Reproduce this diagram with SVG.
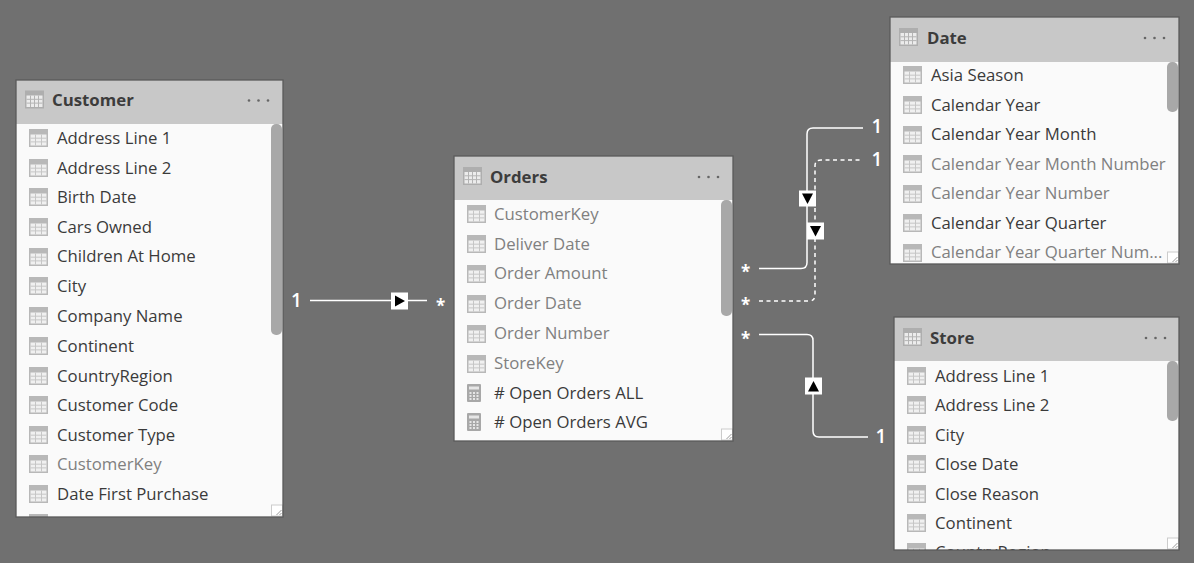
<svg xmlns="http://www.w3.org/2000/svg" width="1194" height="563" viewBox="0 0 1194 563">
<style>
text{font-family:"Open Sans","Noto Sans","Liberation Sans",sans-serif}
.box{fill:#fafafa}
.frame{fill:none;stroke:#5a5a5a;stroke-width:1.3}
.head{fill:#c8c8c8}
.title{font-size:16.800px;font-weight:700;fill:#3c3c3c}
.dots{fill:#666}
.row{font-size:16.750px;fill:#3a3a3a;transform:translateY(-.6px)}
.dim{fill:#808080}
.scroll{fill:#a8a8a8}
.card{font-size:19px;font-weight:600;fill:#fff}
.star{font-size:17px;font-weight:700;fill:#fff}
.line{fill:none;stroke:#fff;stroke-width:1.5}
.dash{stroke-dasharray:4 3.500}
.grip{fill:none;stroke:#999;stroke-width:1}
.corner{fill:#fff;stroke:#ccc;stroke-width:1}
</style>
<defs>
<g id="col"><rect width="19" height="18" fill="#b8b8b8"/><rect x="1.500" y="5.500" width="16" height="11" fill="#f0f0f0"/><path d="M6.500 5.500v11M12.500 5.500v11M1.500 9.200h16M1.500 12.900h16" stroke="#c6c6c6" stroke-width="1" fill="none"/></g>
<g id="tbl"><rect width="19" height="18" fill="#aeaeae"/><rect x="1.500" y="5" width="16" height="11.500" fill="#ececec"/><path d="M5.500 5v11.500M9.500 5v11.500M13.500 5v11.500M1.500 8.800h16M1.500 12.600h16" stroke="#b4b4b4" stroke-width="1" fill="none"/></g>
<g id="calc"><rect x="1" width="14" height="18" rx="1" fill="#a8a8a8"/><rect x="3" y="2.500" width="10" height="3" fill="#e6e6e6"/><path d="M3.500 8h2v2h-2zM7 8h2v2H7zM10.500 8h2v2h-2zM3.500 11h2v2h-2zM7 11h2v2H7zM10.500 11h2v2h-2zM3.500 14h2v2h-2zM7 14h2v2H7zM10.500 14h2v2h-2z" fill="#e6e6e6"/></g>
<g id="dotsg"><circle cx="0" cy="0" r="1.300" class="dots"/><circle cx="9.500" cy="0" r="1.300" class="dots"/><circle cx="19" cy="0" r="1.300" class="dots"/></g>
<g id="resize"><rect x="0" y="0" width="11" height="11" class="corner"/><path d="M10 5l-5 5M10 8l-2 2" class="grip"/></g>
<clipPath id="cCust"><rect x="16" y="80" width="267" height="437"/></clipPath>
<clipPath id="cOrd"><rect x="454" y="156" width="279" height="285"/></clipPath>
<clipPath id="cDate"><rect x="890" y="17" width="289" height="247"/></clipPath>
<clipPath id="cStore"><rect x="894" y="317" width="285" height="233"/></clipPath>
</defs>
<rect width="1194" height="563" fill="#707070"/>

<g id="connectors">
<path class="line" d="M310 300.500H427"/>
<path class="line" d="M759 268.500H801q6 0 6-6V134q0-6 6-6H863"/>
<path class="line dash" d="M759 301H809q6 0 6-6V166q0-6 6-6H863"/>
<path class="line" d="M759 334.500H807q6 0 6 6V431q0 6 6 6H868"/>
<g id="arrows">
<rect x="391" y="292.500" width="17" height="17" fill="#fff"/><path d="M395 295.500l10 5.500-10 5.500z" fill="#000"/>
<rect x="799" y="190.500" width="17" height="16" fill="#fff"/><path d="M802 193.500h11l-5.500 10.500z" fill="#000"/>
<rect x="807" y="222.500" width="17" height="17" fill="#fff"/><path d="M810 226h11l-5.500 10.500z" fill="#000"/>
<rect x="805" y="377.500" width="17" height="17" fill="#fff"/><path d="M813.500 381l5.500 10.500h-11z" fill="#000"/>
</g>
<text class="card" x="291" y="306.500">1</text>
<text class="star" x="436" y="312">*</text>
<text class="star" x="741" y="278">*</text>
<text class="star" x="741" y="311">*</text>
<text class="star" x="741" y="345">*</text>
<text class="card" x="871.500" y="133">1</text>
<text class="card" x="871.500" y="166">1</text>
<text class="card" x="875.500" y="443">1</text>
</g>

<g id="customer">
<rect class="box" x="16" y="80" width="267" height="437"/>
<g clip-path="url(#cCust)">
<rect class="head" x="16" y="80" width="267" height="44"/>
<use href="#tbl" x="25" y="90.500"/>
<text class="title" x="52" y="106">Customer</text>
<use href="#dotsg" x="249" y="100.500"/>
<rect class="scroll" x="271" y="124" width="11" height="211" rx="5"/>
<use href="#col" x="29" y="129"/><text class="row" x="57" y="144.500">Address Line 1</text>
<use href="#col" x="29" y="159"/><text class="row" x="57" y="174.500">Address Line 2</text>
<use href="#col" x="29" y="188"/><text class="row" x="57" y="204">Birth Date</text>
<use href="#col" x="29" y="218"/><text class="row" x="57" y="233.500">Cars Owned</text>
<use href="#col" x="29" y="248"/><text class="row" x="57" y="263">Children At Home</text>
<use href="#col" x="29" y="277"/><text class="row" x="57" y="292.500">City</text>
<use href="#col" x="29" y="307"/><text class="row" x="57" y="322.500">Company Name</text>
<use href="#col" x="29" y="337"/><text class="row" x="57" y="352.500">Continent</text>
<use href="#col" x="29" y="367"/><text class="row" x="57" y="382.500">CountryRegion</text>
<use href="#col" x="29" y="396"/><text class="row" x="57" y="411.500">Customer Code</text>
<use href="#col" x="29" y="426"/><text class="row" x="57" y="441.500">Customer Type</text>
<use href="#col" x="29" y="455"/><text class="row dim" x="57" y="470.500">CustomerKey</text>
<use href="#col" x="29" y="485"/><text class="row" x="57" y="500.500">Date First Purchase</text>
<use href="#col" x="29" y="514"/>
<use href="#resize" x="271.500" y="505"/>
</g>
<rect class="frame" x="16" y="80" width="267" height="437"/>
</g>

<g id="orders">
<rect class="box" x="454" y="156" width="279" height="285"/>
<g clip-path="url(#cOrd)">
<rect class="head" x="454" y="156" width="279" height="44"/>
<use href="#tbl" x="463" y="167"/>
<text class="title" x="490" y="182.500">Orders</text>
<use href="#dotsg" x="699" y="177"/>
<rect class="scroll" x="721" y="200" width="11" height="116" rx="5"/>
<use href="#col" x="467" y="205"/><text class="row dim" x="494" y="221">CustomerKey</text>
<use href="#col" x="467" y="235"/><text class="row dim" x="494" y="250.500">Deliver Date</text>
<use href="#col" x="467" y="265"/><text class="row dim" x="494" y="280">Order Amount</text>
<use href="#col" x="467" y="295"/><text class="row dim" x="494" y="310">Order Date</text>
<use href="#col" x="467" y="325"/><text class="row dim" x="494" y="340">Order Number</text>
<use href="#col" x="467" y="355"/><text class="row dim" x="494" y="370">StoreKey</text>
<use href="#calc" x="466" y="384"/><text class="row" x="494" y="399.500"># Open Orders ALL</text>
<use href="#calc" x="466" y="413"/><text class="row" x="494" y="429"># Open Orders AVG</text>
<use href="#resize" x="721.500" y="429"/>
</g>
<rect class="frame" x="454" y="156" width="279" height="285"/>
</g>

<g id="date">
<rect class="box" x="890" y="17" width="289" height="247"/>
<g clip-path="url(#cDate)">
<rect class="head" x="890" y="17" width="289" height="45"/>
<use href="#tbl" x="899" y="28"/>
<text class="title" x="927" y="43.500">Date</text>
<use href="#dotsg" x="1145" y="38"/>
<rect class="scroll" x="1167" y="62" width="11" height="50" rx="5"/>
<use href="#col" x="903" y="66"/><text class="row" x="931" y="81.500">Asia Season</text>
<use href="#col" x="903" y="96"/><text class="row" x="931" y="111.500">Calendar Year</text>
<use href="#col" x="903" y="126"/><text class="row" x="931" y="141">Calendar Year Month</text>
<use href="#col" x="903" y="155"/><text class="row dim" x="931" y="170.500">Calendar Year Month Number</text>
<use href="#col" x="903" y="185"/><text class="row dim" x="931" y="200">Calendar Year Number</text>
<use href="#col" x="903" y="214"/><text class="row" x="931" y="230">Calendar Year Quarter</text>
<use href="#col" x="903" y="244"/><text class="row dim" x="931" y="259">Calendar Year Quarter Num...</text>
<use href="#resize" x="1167.500" y="252"/>
</g>
<rect class="frame" x="890" y="17" width="289" height="247"/>
</g>

<g id="store">
<rect class="box" x="894" y="317" width="285" height="233"/>
<g clip-path="url(#cStore)">
<rect class="head" x="894" y="317" width="285" height="44"/>
<use href="#tbl" x="903" y="328"/>
<text class="title" x="930" y="343.500">Store</text>
<use href="#dotsg" x="1146" y="338"/>
<rect class="scroll" x="1167" y="361" width="11" height="60" rx="5"/>
<use href="#col" x="907" y="367"/><text class="row" x="935" y="382.500">Address Line 1</text>
<use href="#col" x="907" y="396"/><text class="row" x="935" y="411.500">Address Line 2</text>
<use href="#col" x="907" y="426"/><text class="row" x="935" y="441.500">City</text>
<use href="#col" x="907" y="455"/><text class="row" x="935" y="471">Close Date</text>
<use href="#col" x="907" y="485"/><text class="row" x="935" y="500.500">Close Reason</text>
<use href="#col" x="907" y="514"/><text class="row" x="935" y="529.500">Continent</text>
<use href="#col" x="907" y="543"/><text class="row" x="935" y="559">CountryRegion</text>
<use href="#resize" x="1167.500" y="538"/>
</g>
<rect class="frame" x="894" y="317" width="285" height="233"/>
</g>
</svg>
